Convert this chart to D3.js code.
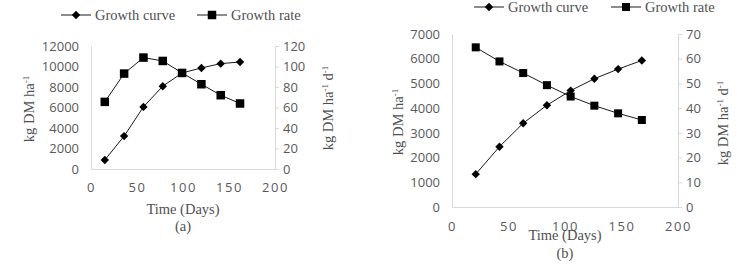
<!DOCTYPE html>
<html>
<head>
<meta charset="utf-8">
<script src="https://cdn.jsdelivr.net/npm/d3@7"></script>
<style>
  body { margin: 0; background: #fff; }
  svg { display: block; }
</style>
</head>
<body>
<div id="chart"></div>
<script>
// panel (a)
const daysA = [15, 36, 57, 78, 99, 120, 141, 162];
const curveA = [880, 3210, 6060, 8080, 9370, 9860, 10280, 10440];
const rateA = [65.5, 93.1, 108.7, 105.4, 93.7, 82.7, 72.0, 63.9];

// panel (b)
const daysB = [21, 42, 63, 84, 105, 126, 147, 168];
const curveB = [1330, 2440, 3390, 4120, 4710, 5190, 5580, 5930];
const rateB = [64.6, 58.9, 54.2, 49.3, 44.7, 41.0, 37.9, 35.2];

const xTicks = [0, 50, 100, 150, 200];
const leftTicksA = [0, 2000, 4000, 6000, 8000, 10000, 12000];
const rightTicksA = [0, 20, 40, 60, 80, 100, 120];
const leftTicksB = [0, 1000, 2000, 3000, 4000, 5000, 6000, 7000];
const rightTicksB = [0, 10, 20, 30, 40, 50, 60, 70];

const seriesNames = ["Growth curve", "Growth rate"];

const serif = "'Liberation Serif', 'Times New Roman', serif";
const sans = "'Open Sans', 'Noto Sans', sans-serif";
const tickColor = "#595959";
const titleColor = "#505050";
const gridColor = "#d9d9d9";
const fmt = d3.format("d");

const svg = d3.select("#chart")
    .append("svg")
    .attr("width", 737)
    .attr("height", 265);

function drawPanel(p) {
    const x = d3.scaleLinear().domain([0, 200]).range([p.left, p.right]);
    const yL = d3.scaleLinear().domain([0, d3.max(p.leftTicks)]).range([p.bottom, p.top]);
    const yR = d3.scaleLinear().domain([0, d3.max(p.rightTicks)]).range([p.bottom, p.top]);

    const g = svg.append("g");

    // frame lines (left, right, bottom)
    g.append("g")
        .attr("transform", `translate(0,${p.bottom})`)
        .call(d3.axisBottom(x).tickValues(xTicks).tickFormat(fmt).tickSize(0).tickPadding(p.xPad))
        .call(a => a.select(".domain").attr("stroke", gridColor))
        .call(a => a.selectAll("text")
            .attr("fill", tickColor).style("font-family", sans).style("font-size", "13px")
            .style("letter-spacing", "1.5px"));

    g.append("g")
        .attr("transform", `translate(${p.left},0)`)
        .call(d3.axisLeft(yL).tickValues(p.leftTicks).tickFormat(fmt).tickSize(0).tickPadding(12))
        .call(a => a.select(".domain").attr("stroke", gridColor))
        .call(a => a.selectAll("text")
            .attr("fill", tickColor).style("font-family", sans).style("font-size", "13px"));

    g.append("g")
        .attr("transform", `translate(${p.right},0)`)
        .call(d3.axisRight(yR).tickValues(p.rightTicks).tickFormat(fmt).tickSizeInner(4).tickSizeOuter(0).tickPadding(4))
        .call(a => a.select(".domain").attr("stroke", gridColor))
        .call(a => a.selectAll("line").attr("stroke", gridColor))
        .call(a => a.selectAll("text")
            .attr("fill", tickColor).style("font-family", sans).style("font-size", "13px"));

    // series
    const curvePts = p.days.map((d, i) => [d, p.curve[i]]);
    const ratePts = p.days.map((d, i) => [d, p.rate[i]]);

    g.append("path")
        .datum(ratePts)
        .attr("fill", "none")
        .attr("stroke", "#000")
        .attr("stroke-width", 0.9)
        .attr("d", d3.line().x(d => x(d[0])).y(d => yR(d[1])));

    g.append("path")
        .datum(curvePts)
        .attr("fill", "none")
        .attr("stroke", "#000")
        .attr("stroke-width", 0.9)
        .attr("d", d3.line().x(d => x(d[0])).y(d => yL(d[1])));

    const sq = p.sq;
    g.selectAll(".sq")
        .data(ratePts)
        .join("rect")
        .attr("x", d => x(d[0]) - sq / 2)
        .attr("y", d => yR(d[1]) - sq / 2)
        .attr("width", sq)
        .attr("height", sq)
        .attr("fill", "#000");

    const diamond = d3.symbol().type(d3.symbolDiamond2).size(p.dia);
    g.selectAll(".dia")
        .data(curvePts)
        .join("path")
        .attr("transform", d => `translate(${x(d[0])},${yL(d[1])})`)
        .attr("d", diamond)
        .attr("fill", "#000");

    // axis titles
    g.append("text")
        .attr("x", (p.left + p.right) / 2)
        .attr("y", p.xTitleY)
        .attr("text-anchor", "middle")
        .attr("fill", titleColor)
        .style("font-family", serif)
        .style("font-size", "14.5px")
        .text("Time (Days)");

    g.append("text")
        .attr("x", (p.left + p.right) / 2)
        .attr("y", p.labelY)
        .attr("text-anchor", "middle")
        .attr("fill", titleColor)
        .style("font-family", serif)
        .style("font-size", "14.5px")
        .text(p.label);

    function yTitle(cx, cy, parts) {
        const t = g.append("text")
            .attr("transform", `translate(${cx},${cy}) rotate(-90)`)
            .attr("text-anchor", "middle")
            .attr("dy", "0.35em")
            .attr("fill", titleColor)
            .style("font-family", serif)
            .style("font-size", "14.5px");
        parts.forEach(([s, sup]) => {
            const ts = t.append("tspan").text(s);
            if (sup) ts.attr("baseline-shift", "super").style("font-size", "9px");
        });
    }
    yTitle(p.leftTitleX, p.leftTitleY, p.leftTitle);
    yTitle(p.rightTitleX, p.rightTitleY, [["kg DM ha"], ["-1", true], [" d"], ["-1", true]]);

    // legend
    const leg = g.append("g");
    p.legend.forEach((l, i) => {
        leg.append("line")
            .attr("x1", l.x1).attr("x2", l.x1 + 30)
            .attr("y1", p.legendY).attr("y2", p.legendY)
            .attr("stroke", "#000").attr("stroke-width", 0.9);
        if (i === 0) {
            leg.append("path")
                .attr("transform", `translate(${l.x1 + 15},${p.legendY})`)
                .attr("d", diamond)
                .attr("fill", "#000");
        } else {
            leg.append("rect")
                .attr("x", l.x1 + 15 - sq / 2).attr("y", p.legendY - sq / 2)
                .attr("width", sq).attr("height", sq)
                .attr("fill", "#000");
        }
        leg.append("text")
            .attr("x", l.x1 + 34)
            .attr("y", p.legendY)
            .attr("dy", "0.33em")
            .attr("fill", titleColor)
            .style("font-family", serif)
            .style("font-size", "14.5px")
            .text(seriesNames[i]);
    });
}

drawPanel({
    days: daysA, curve: curveA, rate: rateA,
    leftTicks: leftTicksA, rightTicks: rightTicksA,
    left: 91, right: 275, top: 46, bottom: 169,
    xPad: 14, xTitleY: 214, labelY: 231, label: "(a)",
    leftTitleX: 29, leftTitleY: 109, leftTitle: [["kg DM  ha"], ["-1", true]],
    rightTitleX: 328, rightTitleY: 108,
    legendY: 15, legend: [{x1: 61}, {x1: 197}],
    sq: 8.5, dia: 45
});

drawPanel({
    days: daysB, curve: curveB, rate: rateB,
    leftTicks: leftTicksB, rightTicks: rightTicksB,
    left: 452, right: 678, top: 34, bottom: 207,
    xPad: 15, xTitleY: 240, labelY: 258, label: "(b)",
    leftTitleX: 398, leftTitleY: 122, leftTitle: [["kg DM ha"], ["-1", true]],
    rightTitleX: 723, rightTitleY: 123,
    legendY: 7, legend: [{x1: 474}, {x1: 611}],
    sq: 8, dia: 45
});
</script>
</body>
</html>
